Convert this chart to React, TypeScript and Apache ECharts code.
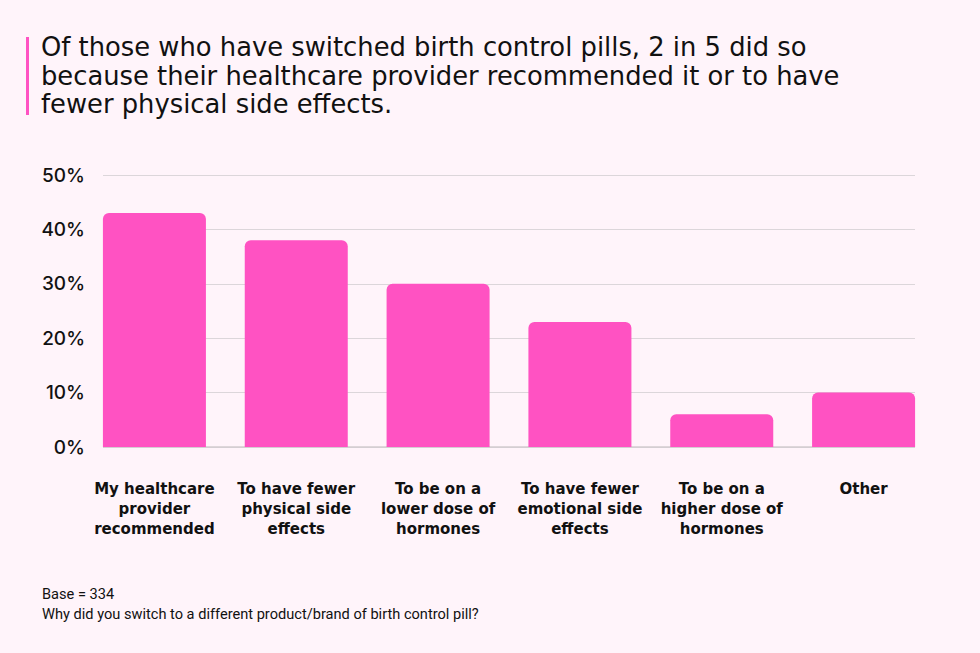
import React, { useEffect, useRef } from "react";
import * as echarts from "echarts";

const categories = [
  "My healthcare\nprovider\nrecommended",
  "To have fewer\nphysical side\neffects",
  "To be on a\nlower dose of\nhormones",
  "To have fewer\nemotional side\neffects",
  "To be on a\nhigher dose of\nhormones",
  "Other",
];
const values = [43, 38, 30, 23, 6, 10];
const yTicks = [0, 10, 20, 30, 40, 50];

const titleLines = [
  "Of those who have switched birth control pills, 2 in 5 did so",
  "because their healthcare provider recommended it or to have",
  "fewer physical side effects.",
];
const footLines = [
  "Base = 334",
  "Why did you switch to a different product/brand of birth control pill?",
];

const PINK = "#FF52C2";
const BG = "#FFF4FA";
const FONT = "Inter, 'Noto Sans', sans-serif";
const WIDE = "'DejaVu Sans', 'Noto Sans', sans-serif";

export default function App() {
  const ref = useRef<HTMLDivElement>(null);
  useEffect(() => {
    if (!ref.current) return;
    const chart = echarts.init(ref.current, undefined, { renderer: "svg" });
    const top = 175;
    const bottom = 653 - 447;
    chart.setOption({
      animation: false,
      backgroundColor: BG,
      textStyle: { fontFamily: FONT },
      graphic: [
        {
          type: "rect",
          shape: { x: 26, y: 37, width: 3, height: 78 },
          style: { fill: PINK },
        },
        {
          type: "text",
          left: 41,
          top: 33,
          style: {
            text: titleLines.join("\n"),
            font: `25.8px ${WIDE}`,
            fill: "#111111",
            lineHeight: 28.5,
          },
        },
        {
          type: "text",
          left: 42,
          top: 584,
          style: {
            text: footLines.join("\n"),
            font: `14.6px Roboto, sans-serif`,
            fill: "#111111",
            lineHeight: 20,
          },
        },
      ],
      grid: [
        { left: 103, right: 65, top, bottom },
        { left: 83.5, right: 45.5, top, bottom },
      ],
      xAxis: [
        {
          gridIndex: 0,
          type: "value",
          min: 0,
          max: 1,
          axisLine: { show: false },
          axisTick: { show: false },
          axisLabel: { show: false },
          splitLine: { show: false },
        },
        {
          gridIndex: 1,
          type: "category",
          data: categories,
          axisLine: { show: false },
          axisTick: { show: false },
          axisLabel: {
            interval: 0,
            margin: 32,
            color: "#111111",
            fontWeight: "bold",
            fontSize: 15,
            lineHeight: 20,
            fontFamily: WIDE,
            verticalAlign: "top",
          },
        },
      ],
      yAxis: [
        {
          gridIndex: 0,
          type: "value",
          min: yTicks[0],
          max: yTicks[yTicks.length - 1],
          interval: 10,
          axisLine: { show: false },
          axisTick: { show: false },
          axisLabel: {
            formatter: "{value}%",
            margin: 18,
            color: "#111111",
            fontSize: 19,
            fontWeight: 500,
            fontFamily: FONT,
          },
          splitLine: {
            lineStyle: { color: "#DCD6DA", width: 1 },
          },
        },
        {
          gridIndex: 1,
          type: "value",
          min: 0,
          max: 50,
          interval: 10,
          axisLine: { show: false },
          axisTick: { show: false },
          axisLabel: { show: false },
          splitLine: { show: false },
        },
      ],
      series: [
        {
          type: "line",
          xAxisIndex: 0,
          yAxisIndex: 0,
          data: [
            [0, 0],
            [1, 0],
          ],
          symbol: "none",
          lineStyle: { color: "#BDB8BB", width: 1 },
          silent: true,
          z: 1,
        },
        {
          type: "bar",
          xAxisIndex: 1,
          yAxisIndex: 1,
          data: values,
          barWidth: 103,
          itemStyle: { color: PINK, borderRadius: [6, 6, 0, 0] },
          z: 2,
        },
      ],
    });
    return () => chart.dispose();
  }, []);
  return (
    <div
      ref={ref}
      style={{ position: "fixed", left: 0, top: 0, width: 980, height: 653 }}
    />
  );
}
